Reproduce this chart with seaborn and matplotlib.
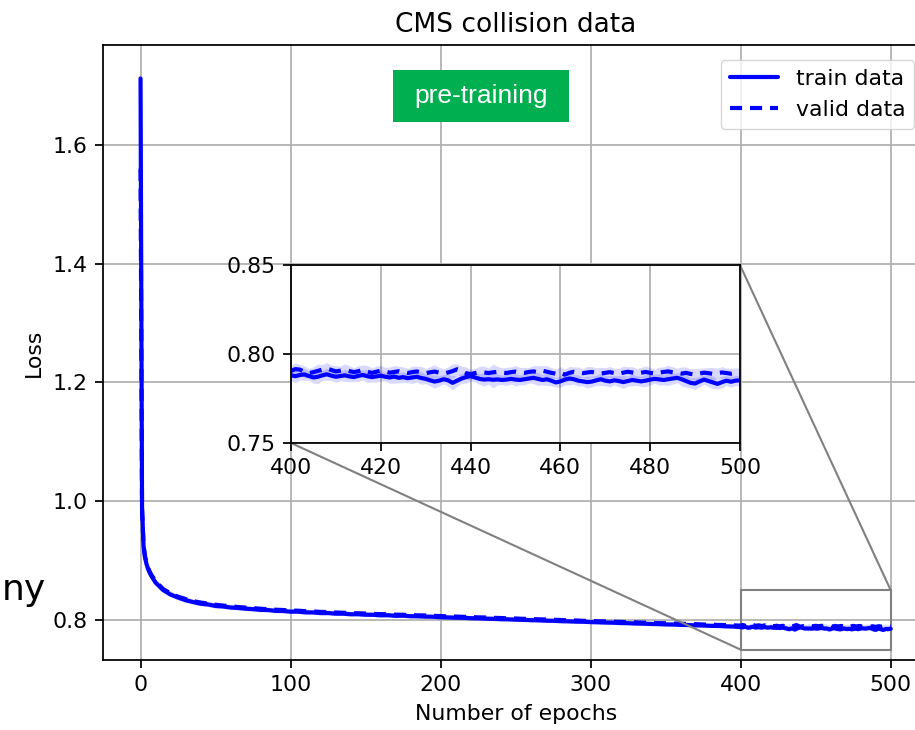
import numpy as np
import matplotlib
matplotlib.use("Agg")
import matplotlib.pyplot as plt
import seaborn as sns
from matplotlib.patches import Rectangle
from mpl_toolkits.axes_grid1.inset_locator import mark_inset

# =========================================================
# DATA
# =========================================================
epochs_early = list(range(0, 10))
epochs_mid = list(range(10, 400, 5))
epochs_end = list(range(400, 501))

train_early = [1.712, 0.990, 0.925, 0.905, 0.894, 0.886, 0.880, 0.875, 0.871, 0.867]
valid_early = [1.560, 0.985, 0.925, 0.907, 0.897, 0.888, 0.882, 0.877, 0.873, 0.869]

train_mid = [
    0.8630, 0.8505, 0.8428, 0.8377, 0.8333, 0.8302, 0.8274, 0.8261, 0.8236, 0.8227,
    0.8210, 0.8202, 0.8190, 0.8182, 0.8170, 0.8167, 0.8153, 0.8151, 0.8140, 0.8140,
    0.8128, 0.8127, 0.8116, 0.8117, 0.8106, 0.8106, 0.8096, 0.8097, 0.8088, 0.8087,
    0.8078, 0.8080, 0.8070, 0.8072, 0.8063, 0.8062, 0.8056, 0.8054, 0.8046, 0.8043,
    0.8038, 0.8036, 0.8030, 0.8027, 0.8022, 0.8019, 0.8013, 0.8011, 0.8005, 0.8002,
    0.7997, 0.7994, 0.7988, 0.7986, 0.7980, 0.7977, 0.7972, 0.7970, 0.7964, 0.7961,
    0.7956, 0.7954, 0.7948, 0.7946, 0.7940, 0.7938, 0.7933, 0.7930, 0.7925, 0.7923,
    0.7917, 0.7915, 0.7909, 0.7907, 0.7901, 0.7899, 0.7893, 0.7889,
]
valid_mid = [
    0.8650, 0.8522, 0.8447, 0.8392, 0.8352, 0.8318, 0.8294, 0.8276, 0.8256, 0.8243,
    0.8230, 0.8218, 0.8209, 0.8198, 0.8190, 0.8183, 0.8173, 0.8168, 0.8160, 0.8156,
    0.8148, 0.8143, 0.8136, 0.8133, 0.8126, 0.8122, 0.8116, 0.8113, 0.8108, 0.8103,
    0.8098, 0.8096, 0.8090, 0.8088, 0.8083, 0.8078, 0.8076, 0.8070, 0.8066, 0.8060,
    0.8058, 0.8053, 0.8050, 0.8044, 0.8042, 0.8036, 0.8033, 0.8028, 0.8025, 0.8019,
    0.8017, 0.8011, 0.8008, 0.8003, 0.8000, 0.7994, 0.7992, 0.7986, 0.7984, 0.7978,
    0.7976, 0.7970, 0.7968, 0.7962, 0.7960, 0.7955, 0.7953, 0.7947, 0.7945, 0.7940,
    0.7937, 0.7932, 0.7929, 0.7924, 0.7922, 0.7916, 0.7914, 0.7909,
]

train_end = [
    0.7880, 0.7875, 0.7882, 0.7885, 0.7876, 0.7868, 0.7872, 0.7880, 0.7886, 0.7878,
    0.7872, 0.7876, 0.7880, 0.7874, 0.7870, 0.7877, 0.7882, 0.7875, 0.7870, 0.7874,
    0.7878, 0.7872, 0.7868, 0.7873, 0.7866, 0.7870, 0.7864, 0.7868, 0.7872, 0.7865,
    0.7860, 0.7852, 0.7845, 0.7850, 0.7858, 0.7852, 0.7838, 0.7850, 0.7862, 0.7870,
    0.7876, 0.7868, 0.7860, 0.7856, 0.7858, 0.7855, 0.7857, 0.7854, 0.7856, 0.7860,
    0.7856, 0.7854, 0.7858, 0.7862, 0.7866, 0.7860, 0.7854, 0.7858, 0.7850, 0.7840,
    0.7846, 0.7856, 0.7862, 0.7858, 0.7850, 0.7846, 0.7842, 0.7845, 0.7852, 0.7858,
    0.7850, 0.7846, 0.7852, 0.7848, 0.7842, 0.7848, 0.7854, 0.7850, 0.7846, 0.7850,
    0.7856, 0.7860, 0.7857, 0.7854, 0.7858, 0.7862, 0.7866, 0.7858, 0.7848, 0.7838,
    0.7834, 0.7846, 0.7856, 0.7848, 0.7840, 0.7832, 0.7842, 0.7850, 0.7844, 0.7850,
    0.7852,
]
valid_end = [
    0.7905, 0.7915, 0.7912, 0.7900, 0.7892, 0.7898, 0.7905, 0.7912, 0.7918, 0.7910,
    0.7902, 0.7906, 0.7910, 0.7904, 0.7898, 0.7903, 0.7910, 0.7900, 0.7894, 0.7900,
    0.7906, 0.7900, 0.7895, 0.7899, 0.7903, 0.7897, 0.7893, 0.7898, 0.7902, 0.7896,
    0.7892, 0.7897, 0.7901, 0.7895, 0.7890, 0.7896, 0.7904, 0.7914, 0.7905, 0.7892,
    0.7886, 0.7893, 0.7899, 0.7896, 0.7893, 0.7897, 0.7900, 0.7896, 0.7893, 0.7898,
    0.7901, 0.7897, 0.7894, 0.7899, 0.7902, 0.7898, 0.7906, 0.7900, 0.7894, 0.7889,
    0.7896, 0.7884, 0.7894, 0.7900, 0.7896, 0.7892, 0.7896, 0.7899, 0.7894, 0.7890,
    0.7894, 0.7898, 0.7893, 0.7889, 0.7895, 0.7900, 0.7896, 0.7891, 0.7895, 0.7899,
    0.7894, 0.7890, 0.7895, 0.7899, 0.7902, 0.7897, 0.7893, 0.7890, 0.7894, 0.7888,
    0.7884, 0.7890, 0.7895, 0.7892, 0.7888, 0.7892, 0.7896, 0.7893, 0.7889, 0.7893,
    0.7891,
]

# half width of the shaded band (std over runs)
spread_early = [0.0, 0.020, 0.012, 0.009, 0.008, 0.007, 0.006, 0.006, 0.005, 0.005]
spread_mid = [
    0.0045, 0.0040, 0.0042, 0.0038, 0.0041, 0.0036, 0.0039, 0.0035, 0.0037, 0.0034,
    0.0036, 0.0033, 0.0035, 0.0032, 0.0036, 0.0031, 0.0034, 0.0030, 0.0033, 0.0032,
    0.0029, 0.0033, 0.0030, 0.0034, 0.0031, 0.0028, 0.0032, 0.0030, 0.0033, 0.0029,
    0.0031, 0.0028, 0.0032, 0.0030, 0.0027, 0.0031, 0.0029, 0.0032, 0.0028, 0.0030,
    0.0027, 0.0031, 0.0029, 0.0026, 0.0030, 0.0028, 0.0031, 0.0027, 0.0029, 0.0026,
    0.0030, 0.0028, 0.0031, 0.0027, 0.0029, 0.0026, 0.0030, 0.0028, 0.0025, 0.0029,
    0.0027, 0.0030, 0.0026, 0.0028, 0.0031, 0.0027, 0.0029, 0.0026, 0.0030, 0.0028,
    0.0027, 0.0030, 0.0026, 0.0029, 0.0027, 0.0031, 0.0028, 0.0026,
]
spread_end = [
    0.0030, 0.0036, 0.0028, 0.0033, 0.0025, 0.0031, 0.0038, 0.0029, 0.0034, 0.0027,
    0.0032, 0.0026, 0.0035, 0.0030, 0.0024, 0.0031, 0.0028, 0.0036, 0.0027, 0.0033,
    0.0029, 0.0025, 0.0032, 0.0037, 0.0028, 0.0031, 0.0026, 0.0034, 0.0029, 0.0035,
    0.0027, 0.0032, 0.0038, 0.0030, 0.0026, 0.0033, 0.0040, 0.0031, 0.0027, 0.0034,
    0.0029, 0.0025, 0.0031, 0.0036, 0.0028, 0.0046, 0.0030, 0.0026, 0.0033, 0.0029,
    0.0035, 0.0027, 0.0031, 0.0025, 0.0032, 0.0037, 0.0028, 0.0034, 0.0030, 0.0026,
    0.0033, 0.0029, 0.0036, 0.0027, 0.0031, 0.0025, 0.0034, 0.0030, 0.0028, 0.0035,
    0.0029, 0.0032, 0.0026, 0.0031, 0.0036, 0.0028, 0.0033, 0.0027, 0.0030, 0.0034,
    0.0029, 0.0025, 0.0032, 0.0028, 0.0035, 0.0031, 0.0027, 0.0038, 0.0033, 0.0029,
    0.0034, 0.0030, 0.0026, 0.0032, 0.0036, 0.0029, 0.0033, 0.0027, 0.0031, 0.0028,
    0.0030,
]

main_xticks = [0, 100, 200, 300, 400, 500]
main_yticks = [0.8, 1.0, 1.2, 1.4, 1.6]
inset_xticks = [400, 420, 440, 460, 480, 500]
inset_yticks = [0.75, 0.80, 0.85]

epochs = np.array(epochs_early + epochs_mid + epochs_end)
train = np.array(train_early + train_mid + train_end)
valid = np.array(valid_early + valid_mid + valid_end)
spread = np.array(spread_early + spread_mid + spread_end)

# =========================================================
# STYLE
# =========================================================
sns.set_theme(style="ticks", rc={
    "axes.edgecolor": "black",
    "axes.linewidth": 1.27,
    "xtick.color": "black",
    "ytick.color": "black",
    "text.color": "black",
    "axes.labelcolor": "black",
    "xtick.major.size": 5.5,
    "ytick.major.size": 5.5,
    "xtick.major.width": 1.27,
    "ytick.major.width": 1.27,
    "xtick.major.pad": 5.5,
    "ytick.major.pad": 5.5,
    "xtick.labelsize": 15.8,
    "ytick.labelsize": 15.8,
    "axes.labelsize": 15.8,
    "legend.fontsize": 15.8,
    "grid.color": "#b0b0b0",
    "grid.linewidth": 1.27,
    "axes.grid": True,
    "axes.labelpad": 6.3,
})
plt.rcParams["font.family"] = ["DejaVu Sans"]

dash = (0, (2.9, 1.9))
band_color = "blue"

fig = plt.figure(figsize=(9.15, 7.3), dpi=100)
# main axes runs a little past the right edge of the picture (cropped)
ax = fig.add_axes([0.1126, 0.0959, 0.9019, 0.8425])

ax.fill_between(epochs, train - spread, train + spread, color=band_color, alpha=0.15, lw=0)
ax.fill_between(epochs, valid - spread, valid + spread, color=band_color, alpha=0.15, lw=0)
sns.lineplot(x=epochs, y=train, ax=ax, color="blue", lw=3, errorbar=None, label="train data")
sns.lineplot(x=epochs, y=valid, ax=ax, color="blue", lw=3, errorbar=None,
             linestyle=dash, label="valid data")

ax.set_xlim(-25, 525)
ax.set_ylim(0.7326, 1.7684)
ax.set_xticks(main_xticks)
ax.set_yticks(main_yticks)
ax.set_xlabel("Number of epochs")
ax.set_ylabel("Loss")
ax.set_title("CMS collision data", fontsize=19, pad=9.5)
ax.legend(loc="upper right", bbox_to_anchor=(914 / 915, 1 - 60 / 730),
          bbox_transform=fig.transFigure, borderaxespad=0, framealpha=0.8,
          handlelength=2.2)

# green "pre-training" tag
ax.add_patch(Rectangle((0.3514, 0.8748), 0.2133, 0.0845, transform=ax.transAxes,
                       facecolor="#00B050", edgecolor="none", zorder=4))
ax.text(0.458, 0.917, "pre-training", transform=ax.transAxes, ha="center", va="center",
        color="white", fontsize=19, family=["Liberation Sans", "DejaVu Sans"], zorder=5)

# =========================================================
# INSET (zoom on the last 100 epochs)
# =========================================================
axins = fig.add_axes([0.318, 0.3932, 0.4907, 0.2438])
e_end = np.array(epochs_end)
t_end = np.array(train_end)
v_end = np.array(valid_end)
s_end = np.array(spread_end)
axins.fill_between(e_end, t_end - s_end, t_end + s_end, color=band_color, alpha=0.15, lw=0)
axins.fill_between(e_end, v_end - s_end, v_end + s_end, color=band_color, alpha=0.15, lw=0)
sns.lineplot(x=e_end, y=t_end, ax=axins, color="blue", lw=3, errorbar=None, legend=False)
sns.lineplot(x=e_end, y=v_end, ax=axins, color="blue", lw=3, errorbar=None,
             linestyle=dash, legend=False)
axins.set_xlim(400, 500)
axins.set_ylim(0.75, 0.85)
axins.set_xticks(inset_xticks)
axins.set_yticks(inset_yticks)
axins.set_yticklabels([f"{v:.2f}" for v in inset_yticks])
axins.set_xlabel("")
axins.set_ylabel("")
axins.grid(True)

mark_inset(ax, axins, loc1=1, loc2=3, fc="none", ec="0.5", lw=1.5)

# fragment of neighbouring text at the left edge
fig.text(2 / 915, 1 - 600 / 730, "ny", fontsize=26, ha="left", va="baseline")

fig.savefig("out.png", dpi=100)
